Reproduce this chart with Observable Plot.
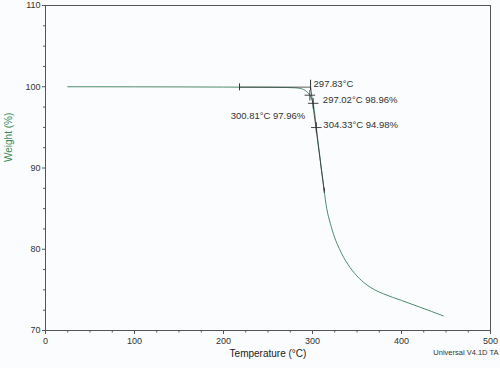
<!DOCTYPE html>
<html>
<head>
<meta charset="utf-8">
<script src="https://cdn.jsdelivr.net/npm/d3@7"></script>
<script src="https://cdn.jsdelivr.net/npm/@observablehq/plot@0.6"></script>
<style>
  html, body { margin: 0; padding: 0; background: #fbfcfd; }
  #chart { width: 500px; height: 368px; }
</style>
</head>
<body>
<div id="chart"></div>
<script>
// TGA curve: temperature (°C) and weight (%)
const temperature = [25, 50, 100, 150, 200, 218, 250, 270, 280, 285, 290, 293, 295, 297.02, 299, 300.81, 302, 304.33, 306, 308, 310, 313, 316, 320, 325, 330, 335, 340, 350, 360, 370, 380, 400, 420, 447];
const weight      = [100.0, 100.0, 99.99, 99.98, 99.96, 99.95, 99.94, 99.91, 99.87, 99.82, 99.66, 99.45, 99.25, 98.96, 98.5, 97.96, 97.1, 94.98, 93.4, 91.6, 89.8, 87.3, 85.0, 83.2, 81.4, 80.1, 79.0, 78.1, 76.7, 75.7, 75.0, 74.5, 73.7, 72.9, 71.8];

// Analysis annotations
const onsetTemp = 297.83;
const onsetWeight = 99.95;
const baselineStart = 218;
const tangentEnd = [313.2, 87.2];
const pointTemps   = [297.02, 300.81, 304.33];
const pointWeights = [98.96, 97.96, 94.98];

// Axis ticks
const xTicks = [0, 100, 200, 300, 400, 500];
const xMinor = [25, 50, 75, 125, 150, 175, 225, 250, 275, 325, 350, 375, 425, 450, 475];
const yTicks = [70, 80, 90, 100, 110];
const yMinor = [72.5, 75, 77.5, 82.5, 85, 87.5, 92.5, 95, 97.5, 102.5, 105, 107.5];

const curve = temperature.map((t, i) => ({t, w: weight[i]}));
const points = pointTemps.map((t, i) => ({t, w: pointWeights[i], label: `${t.toFixed(2)}°C ${pointWeights[i].toFixed(2)}%`}));

const font = "'Liberation Sans', Arial, sans-serif";
const axisColor = "#555";
const textColor = "#333";

const chart = Plot.plot({
  width: 500,
  height: 368,
  marginLeft: 45,
  marginRight: 10,
  marginTop: 5,
  marginBottom: 38,
  style: {fontFamily: font, fontSize: "9px", color: textColor, background: "transparent"},
  x: {domain: [0, 500]},
  y: {domain: [70, 110]},
  marks: [
    Plot.frame({stroke: axisColor, strokeWidth: 1}),
    Plot.axisX({ticks: xTicks, tickSize: 4, tickPadding: 3, label: null, stroke: axisColor, fill: textColor}),
    Plot.axisX({ticks: xMinor, tickSize: 2.5, text: null, label: null, stroke: axisColor}),
    Plot.axisY({ticks: yTicks, tickSize: 3, tickPadding: 2, label: null, stroke: axisColor, fill: textColor}),
    Plot.axisY({ticks: yMinor, tickSize: 2, text: null, label: null, stroke: axisColor}),
    // main curve
    Plot.line(curve, {x: "t", y: "w", stroke: "#4d8c6c", strokeWidth: 1, curve: "monotone-x"}),
    // baseline tangent and steep tangent
    Plot.line([{t: baselineStart, w: onsetWeight}, {t: onsetTemp, w: onsetWeight}], {x: "t", y: "w", stroke: "#333", strokeWidth: 0.8}),
    Plot.line([{t: onsetTemp, w: onsetWeight}, {t: tangentEnd[0], w: tangentEnd[1]}], {x: "t", y: "w", stroke: "#333", strokeWidth: 0.8}),
    // markers
    Plot.ruleX([baselineStart], {y1: onsetWeight - 0.45, y2: onsetWeight + 0.4, stroke: "#333"}),
    Plot.ruleX([onsetTemp], {y1: onsetWeight - 0.4, y2: onsetWeight + 0.85, stroke: "#333"}),
    Plot.ruleX([tangentEnd[0]], {y1: tangentEnd[1] - 0.3, y2: tangentEnd[1] + 0.3, stroke: "#333"}),
    Plot.dot(points, {x: "t", y: "w", symbol: "plus", r: 3.5, stroke: "#333", strokeWidth: 0.9}),
    // labels
    Plot.text([onsetTemp], {x: d => d, y: onsetWeight + 0.42, text: d => `${d.toFixed(2)}°C`, textAnchor: "start", dx: 3, fontSize: 9.5, fill: textColor}),
    Plot.text([points[0]], {x: "t", y: "w", text: "label", textAnchor: "start", dx: 13, dy: 4.5, fontSize: 9.5, fill: textColor}),
    Plot.text([points[1]], {x: "t", y: "w", text: "label", textAnchor: "end", dx: -8, dy: 13, fontSize: 9.5, fill: textColor}),
    Plot.text([points[2]], {x: "t", y: "w", text: "label", textAnchor: "start", dx: 7, dy: -3, fontSize: 9.5, fill: textColor}),
    // axis titles & caption
    Plot.text(["Temperature (°C)"], {frameAnchor: "bottom", dy: 26.5, fontSize: 10, fill: "#222"}),
    Plot.text(["Weight (%)"], {frameAnchor: "left", rotate: -90, dx: -37, dy: -6, fontSize: 10, fill: "#3a8a55"}),
    Plot.text(["Universal V4.1D TA"], {frameAnchor: "bottom-right", textAnchor: "end", dx: 8, dy: 24, fontSize: 7.5, fill: textColor})
  ]
});
document.getElementById("chart").appendChild(chart);
</script>
</body>
</html>
